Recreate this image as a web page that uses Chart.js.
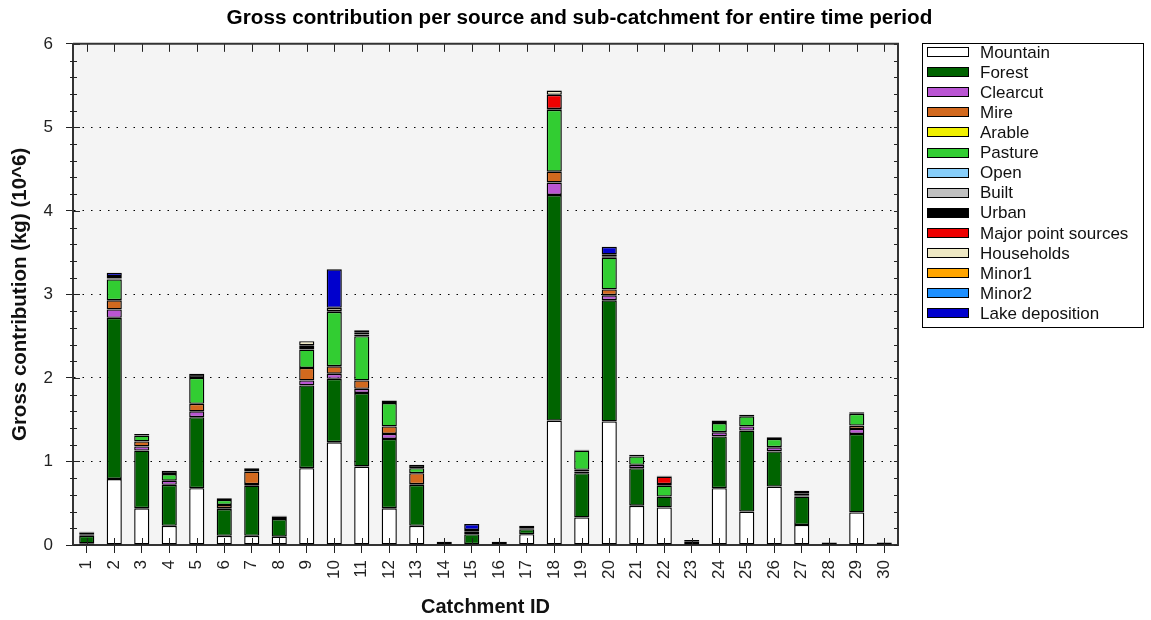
<!DOCTYPE html>
<html>
<head>
<meta charset="utf-8">
<title>Gross contribution per source and sub-catchment</title>
<script src="https://cdn.jsdelivr.net/npm/chart.js@4/dist/chart.umd.min.js"></script>
<style>
    html, body { margin: 0; padding: 0; background: #fff; }
    #wrap { width: 1151px; height: 620px; }
</style>
</head>
<body>
<div id="wrap"><canvas id="chart" width="1151" height="620"></canvas></div>
<script>
// Catchment IDs on the x axis
const catchments = ['1','2','3','4','5','6','7','8','9','10','11','12','13','14','15',
    '16','17','18','19','20','21','22','23','24','25','26','27','28','29','30'];

// Gross contribution per source (10^6 kg), one value per catchment
const mountain    = [0.02,0.79,0.44,0.23,0.68,0.11,0.11,0.10,0.92,1.23,0.94,0.44,0.23,0.01,0.01,0.01,0.13,1.49,0.33,1.48,0.47,0.45,0.04,0.68,0.40,0.70,0.24,0,0.39,0];
const forest      = [0.09,1.93,0.69,0.49,0.85,0.32,0.60,0.21,0.99,0.76,0.88,0.83,0.49,0,0.12,0,0.06,2.70,0.53,1.45,0.45,0.13,0,0.62,0.97,0.42,0.34,0,0.94,0];
const clearcut    = [0,0.10,0.05,0.05,0.07,0.01,0.02,0,0.06,0.06,0.05,0.06,0.01,0,0,0,0,0.15,0.02,0.06,0.04,0,0,0.05,0.05,0.05,0.01,0,0.06,0];
const mire        = [0,0.11,0.06,0,0.09,0.04,0.15,0.03,0.15,0.09,0.10,0.09,0.13,0,0.03,0,0,0.13,0.02,0.07,0,0,0,0,0,0,0,0,0.04,0];
const arable      = new Array(30).fill(0);
const pasture     = [0,0.25,0.07,0.08,0.31,0.06,0.03,0,0.22,0.65,0.53,0.28,0.06,0,0,0,0.01,0.74,0.23,0.38,0.10,0.13,0,0.11,0.12,0.10,0.03,0,0.14,0];
const open        = new Array(30).fill(0);
const built       = new Array(30).fill(0);
const urban       = [0.02,0.01,0.02,0.04,0.05,0.02,0.01,0.01,0.03,0.01,0.02,0.03,0.04,0.03,0.02,0.03,0.03,0.01,0.01,0.01,0.02,0.02,0.02,0.03,0.02,0.02,0.03,0.03,0.02,0.03];
const majorPoint  = [0.02,0,0,0,0,0,0,0,0.02,0,0.02,0,0,0,0,0,0,0.17,0,0,0,0.09,0,0,0,0,0,0,0,0];
const households  = [0.01,0.03,0,0,0,0,0,0,0.05,0.04,0.03,0,0,0,0,0,0,0.05,0,0.03,0,0.01,0,0,0,0,0,0,0,0];
const minor1      = new Array(30).fill(0);
const minor2      = new Array(30).fill(0);
const lakeDep     = [0,0.04,0,0,0,0,0,0,0,0.46,0,0,0,0,0.07,0,0,0,0,0.09,0,0,0,0,0,0,0,0,0,0];

const sourceNames  = ['Mountain','Forest','Clearcut','Mire','Arable','Pasture','Open','Built','Urban',
    'Major point sources','Households','Minor1','Minor2','Lake deposition'];
const sourceValues = [mountain, forest, clearcut, mire, arable, pasture, open, built, urban,
    majorPoint, households, minor1, minor2, lakeDep];
const sourceColors = ['#ffffff','#006400','#ba55d3','#d2691e','#f0f000','#32cd32','#87cefa','#c0c0c0','#000000',
    '#ee0000','#eee8c4','#ffa500','#1e90ff','#0000cd'];

const FONT = 'Arial, "Liberation Sans", sans-serif';

// Build the stacked datasets (zeros left out so they draw no outline)
const datasets = sourceNames.map((name, i) => ({
    label: name,
    data: sourceValues[i].map(v => (v > 0 ? v : null)),
    backgroundColor: sourceColors[i],
    borderColor: '#000',
    borderWidth: 1.4,
    borderSkipped: false,
    barPercentage: 0.55,
    categoryPercentage: 1.0
}));

// Grey plot area, frame, mirrored/minor ticks and the boxed legend
const framePlugin = {
    id: 'frame',
    beforeDraw(chart) {
        const { ctx, chartArea: a } = chart;
        ctx.save();
        ctx.fillStyle = '#f4f4f4';
        ctx.fillRect(a.left, a.top, a.right - a.left, a.bottom - a.top);
        ctx.restore();
    },
    afterDraw(chart) {
        const { ctx, chartArea: a } = chart;
        const xs = chart.scales.x;
        const ys = chart.scales.y;
        ctx.save();
        ctx.strokeStyle = '#222';
        ctx.lineWidth = 1;

        // category ticks: inside at bottom, inside at top
        ctx.beginPath();
        for (let i = 0; i < catchments.length; i++) {
            const x = Math.round(xs.getPixelForTick(i)) + 0.5;
            ctx.moveTo(x, a.bottom);
            ctx.lineTo(x, a.bottom - 7);
            ctx.moveTo(x, a.top);
            ctx.lineTo(x, a.top + 8);
        }
        // y ticks: major inside on the left, minor crossing the left axis, all inside on the right
        for (let v = 0; v <= 6.0001; v += 0.2) {
            const y = Math.round(ys.getPixelForValue(v)) + 0.5;
            const major = Math.abs(v - Math.round(v)) < 1e-6;
            if (major) {
                ctx.moveTo(a.left, y);
                ctx.lineTo(a.left + 7, y);
            } else {
                ctx.moveTo(a.left - 3, y);
                ctx.lineTo(a.left + 4, y);
            }
            ctx.moveTo(a.right, y);
            ctx.lineTo(a.right - 4, y);
        }
        ctx.stroke();

        // top and right frame lines
        ctx.strokeStyle = '#333';
        ctx.lineWidth = 2;
        ctx.beginPath();
        ctx.moveTo(a.left, a.top);
        ctx.lineTo(a.right, a.top);
        ctx.lineTo(a.right, a.bottom);
        ctx.stroke();

        // legend
        const lx = 922, ly = 43, lw = 221, lh = 284;
        ctx.fillStyle = '#fff';
        ctx.fillRect(lx, ly, lw, lh);
        ctx.strokeStyle = '#000';
        ctx.lineWidth = 1;
        ctx.strokeRect(lx + 0.5, ly + 0.5, lw, lh);
        ctx.font = '17px ' + FONT;
        ctx.textBaseline = 'middle';
        chart.data.datasets.forEach((ds, i) => {
            const cy = 52 + i * 20.1;
            ctx.fillStyle = ds.backgroundColor;
            ctx.fillRect(927.5, Math.round(cy - 5) + 0.5, 41, 9);
            ctx.strokeStyle = '#000';
            ctx.strokeRect(927.5, Math.round(cy - 5) + 0.5, 41, 9);
            ctx.fillStyle = '#111';
            ctx.fillText(ds.label, 980, cy + 1);
        });
        ctx.restore();
    }
};

new Chart(document.getElementById('chart'), {
    type: 'bar',
    data: { labels: catchments, datasets: datasets },
    plugins: [framePlugin],
    options: {
        responsive: false,
        animation: false,
        layout: { padding: { left: 8, right: 0, top: 0, bottom: 0 } },
        plugins: {
            legend: { display: false },
            tooltip: { enabled: false },
            title: {
                display: true,
                text: 'Gross contribution per source and sub-catchment for entire time period',
                color: '#000',
                font: { family: FONT, size: 20.7, weight: 'bold' },
                padding: { top: 6, bottom: 13 }
            }
        },
        scales: {
            x: {
                stacked: true,
                afterFit(scale) { scale.height = 75; },
                grid: { drawOnChartArea: false, drawTicks: true, offset: false, tickLength: 8, tickColor: '#222' },
                border: { display: true, color: '#333', width: 2 },
                ticks: {
                    color: '#222',
                    font: { family: FONT, size: 17 },
                    minRotation: 90,
                    maxRotation: 90,
                    padding: 7,
                    autoSkip: false
                },
                title: {
                    display: true,
                    text: 'Catchment ID',
                    color: '#111',
                    font: { family: FONT, size: 20, weight: 'bold' },
                    padding: { top: 0, bottom: 1 }
                }
            },
            y: {
                stacked: true,
                min: 0,
                max: 6,
                afterFit(scale) { scale.width = 65; },
                grid: { color: '#000', lineWidth: 1, tickLength: 7, tickColor: '#222', tickBorderDash: [] },
                border: { display: true, color: '#333', width: 2, dash: [1.5, 7] },
                ticks: {
                    stepSize: 1,
                    color: '#222',
                    font: { family: FONT, size: 17 },
                    padding: 13
                },
                title: {
                    display: true,
                    text: 'Gross contribution (kg) (10^6)',
                    color: '#111',
                    font: { family: FONT, size: 20.5, weight: 'bold' },
                    padding: { top: 0, bottom: 0 }
                }
            },
            // empty right-hand box that keeps room for the legend
            yRoom: {
                position: 'right',
                min: 0,
                max: 6,
                afterFit(scale) { scale.width = 253; },
                grid: { display: false },
                border: { display: false },
                ticks: { display: false }
            }
        }
    }
});
</script>
</body>
</html>
